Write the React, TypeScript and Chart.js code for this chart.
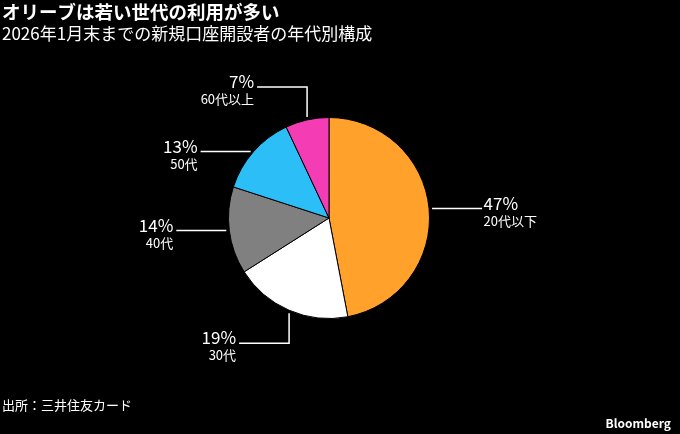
import React, { useEffect, useRef } from "react";
import { Chart, registerables } from "chart.js";

Chart.register(...registerables);

const categories = ["20代以下", "30代", "40代", "50代", "60代以上"];
const shares = [47, 19, 14, 13, 7];
const colors = ["#FFA12B", "#FFFFFF", "#808080", "#2CBEF6", "#F43DB5"];
const leaderKinds = ["h", "elbowDown", "h", "h", "elbowUp"];

const TITLE = "オリーブは若い世代の利用が多い";
const SUBTITLE = "2026年1月末までの新規口座開設者の年代別構成";
const SOURCE = "出所：三井住友カード";
const BRAND = "Bloomberg";
const FONT = '"Noto Sans CJK JP", "Noto Sans", sans-serif';

const labelPlugin = {
  id: "pieLabels",
  afterDraw(chart: any) {
    const ctx: CanvasRenderingContext2D = chart.ctx;
    const meta = chart.getDatasetMeta(0);
    ctx.save();
    const GAP = 3;
    const LEN = 50;
    const ELBOW = 33;
    meta.data.forEach((arc: any, i: number) => {
      const { x, y, startAngle, endAngle, outerRadius } = arc.getProps(
        ["x", "y", "startAngle", "endAngle", "outerRadius"],
        true
      );
      const mid = (startAngle + endAngle) / 2;
      const ex = x + Math.cos(mid) * outerRadius;
      const ey = y + Math.sin(mid) * outerRadius;
      const kind = leaderKinds[i];
      let lx: number;
      let ly: number;
      let dir: number;
      ctx.strokeStyle = "#FFFFFF";
      ctx.lineWidth = 1.5;
      ctx.beginPath();
      if (kind === "h") {
        dir = Math.cos(mid) >= 0 ? 1 : -1;
        const sx = ex + dir * GAP;
        ly = ey;
        ctx.moveTo(sx, ly);
        lx = sx + dir * LEN;
        ctx.lineTo(lx, ly);
      } else {
        const vdir = kind === "elbowUp" ? -1 : 1;
        dir = -1;
        ctx.moveTo(ex, ey + vdir * GAP);
        ly = ey + vdir * ELBOW;
        ctx.lineTo(ex, ly);
        lx = ex + dir * LEN;
        ctx.lineTo(lx, ly);
      }
      ctx.stroke();
      const tx = lx + dir * (dir > 0 ? 1.5 : 3);
      ctx.textAlign = dir > 0 ? "left" : "right";
      ctx.textBaseline = "alphabetic";
      ctx.fillStyle = "#FFFFFF";
      ctx.font = `17px ${FONT}`;
      ctx.fillText(`${shares[i]}%`, tx, ly + 1);
      ctx.font = `13px ${FONT}`;
      ctx.fillText(categories[i], tx, ly + 17);
    });

    ctx.textAlign = "left";
    ctx.textBaseline = "alphabetic";
    ctx.fillStyle = "#FFFFFF";
    ctx.font = `bold 18.5px ${FONT}`;
    ctx.fillText(TITLE, 2, 19);
    ctx.font = `17px ${FONT}`;
    ctx.fillText(SUBTITLE, 2, 39.5);
    ctx.font = `13px ${FONT}`;
    ctx.fillText(SOURCE, 2, 410);
    ctx.textAlign = "right";
    ctx.font = `bold 12px ${FONT}`;
    ctx.fillText(BRAND, 671, 428);
    ctx.restore();
  },
};

export default function App() {
  const ref = useRef<HTMLCanvasElement | null>(null);

  useEffect(() => {
    if (!ref.current) return;
    const chart = new Chart(ref.current, {
      type: "pie",
      data: {
        labels: categories,
        datasets: [
          {
            data: shares,
            backgroundColor: colors,
            borderColor: "#000000",
            borderWidth: 1,
            hoverOffset: 0,
          },
        ],
      },
      options: {
        responsive: false,
        animation: false,
        events: [],
        layout: { padding: { left: 228, right: 250, top: 117, bottom: 115 } },
        plugins: {
          legend: { display: false },
          tooltip: { enabled: false },
          title: { display: false },
        },
      },
      plugins: [labelPlugin],
    });
    return () => chart.destroy();
  }, []);

  return (
    <div
      style={{
        position: "fixed",
        left: 0,
        top: 0,
        width: 680,
        height: 434,
        background: "#000000",
        overflow: "hidden",
      }}
    >
      <canvas ref={ref} width={680} height={434} style={{ display: "block" }} />
    </div>
  );
}
